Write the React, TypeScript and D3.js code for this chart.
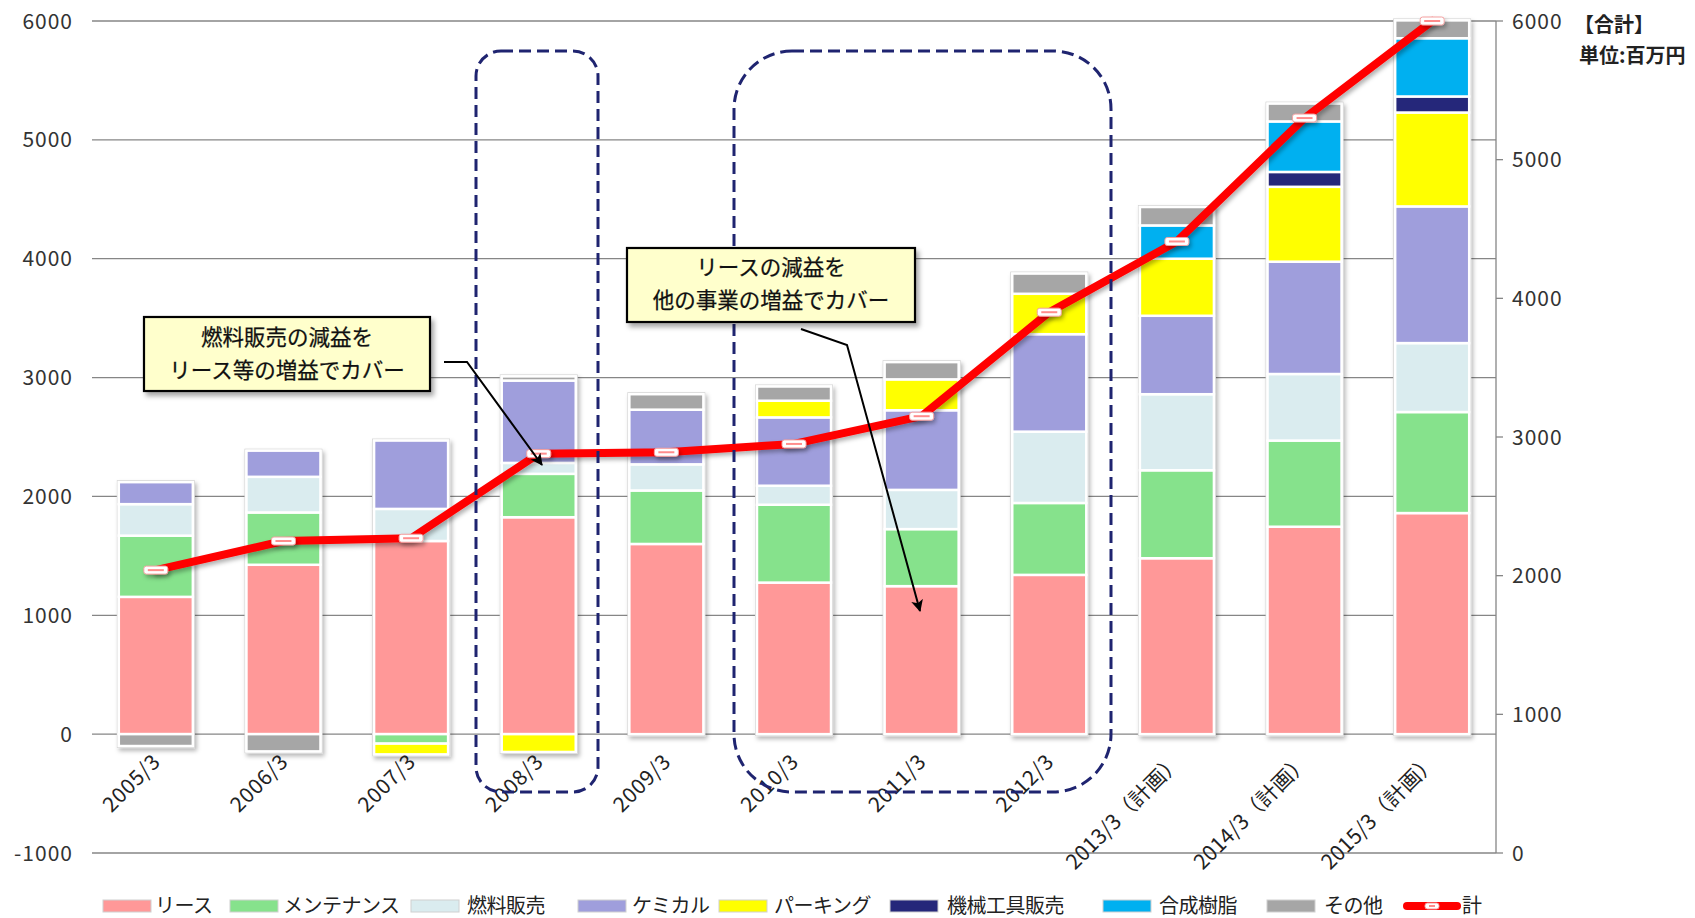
import React from 'react';
import * as d3 from 'd3';

const categories = [
  '2005/3', '2006/3', '2007/3', '2008/3', '2009/3', '2010/3', '2011/3', '2012/3',
  '2013/3（計画）', '2014/3（計画）', '2015/3（計画）',
];
const seriesNames = ['リース', 'メンテナンス', '燃料販売', 'ケミカル', 'パーキング', '機械工具販売', '合成樹脂', 'その他'];
const lease = [1155, 1425, 1625, 1825, 1600, 1275, 1245, 1340, 1480, 1745, 1860];
const maintenance = [515, 440, -80, 365, 450, 655, 480, 605, 740, 725, 850];
const fuel = [265, 300, 270, 92, 220, 160, 330, 600, 640, 560, 580];
const chemical = [185, 220, 575, 693, 460, 575, 670, 820, 660, 945, 1150];
const parking = [0, 0, -90, -150, 0, 140, 260, 340, 480, 630, 790];
const machineTools = [0, 0, 0, 0, 0, 0, 0, 0, 0, 125, 135];
const resin = [0, 0, 0, 0, 0, 0, 0, 0, 280, 425, 490];
const others = [-100, -145, 0, 35, 130, 120, 145, 170, 155, 150, 150];
const totals = [2040, 2250, 2270, 2880, 2890, 2950, 3150, 3900, 4410, 5300, 6000];
const totalName = '計';
const leftTicks = [-1000, 0, 1000, 2000, 3000, 4000, 5000, 6000];
const rightTicks = [0, 1000, 2000, 3000, 4000, 5000, 6000];
const seriesColors = ['#FF9898', '#86E28C', '#DAECEF', '#9F9EDC', '#FFFF00', '#25277A', '#00B0F0', '#A6A6A6'];
const callout1 = ['燃料販売の減益を', 'リース等の増益でカバー'];
const callout2 = ['リースの減益を', '他の事業の増益でカバー'];

const seriesValues = [lease, maintenance, fuel, chemical, parking, machineTools, resin, others];
const FONT = "'Noto Sans CJK JP', 'Noto Sans', sans-serif";

export default function App() {
  const W = 1695, H = 918;
  const left = 92, right = 1496, top = 21, bottom = 853;
  const x = d3.scaleBand<string>().domain(categories).range([left, right]).paddingInner(0.42).paddingOuter(0.21);
  const yL = d3.scaleLinear().domain([-1000, 6000]).range([bottom, top]);
  const yR = d3.scaleLinear().domain([0, 6000]).range([bottom, top]);

  const rows = categories.map((c, i) => {
    const r: any = { cat: c };
    seriesNames.forEach((k, j) => { r[k] = seriesValues[j][i]; });
    return r;
  });
  const stacked = d3.stack<any>().keys(seriesNames).offset(d3.stackOffsetDiverging)(rows);
  const bw = x.bandwidth();
  const cx = (c: string) => (x(c) as number) + bw / 2;

  const extents = categories.map((c, i) => {
    let mn = 0, mx = 0;
    stacked.forEach((s) => { mn = Math.min(mn, s[i][0], s[i][1]); mx = Math.max(mx, s[i][0], s[i][1]); });
    return [mn, mx];
  });

  const line = d3.line<number>().x((_, i) => cx(categories[i])).y((d) => yR(d));

  const legendSwatchX = [103, 230, 411, 578, 719, 890, 1103, 1267];
  const legendTextX = [155, 283, 467, 632, 774, 947, 1159, 1324];
  const legendY = 906;

  const marker = (mx: number, my: number, w: number, h: number, key: string) => (
    <g key={key}>
      <rect x={mx - w / 2} y={my - h / 2} width={w} height={h} rx={2.5} fill="#fff" stroke="#F4A0A0" strokeWidth={1} />
      <line x1={mx - w / 2 + 4} x2={mx + w / 2 - 4} y1={my} y2={my} stroke="#FF8C8C" strokeWidth={2} />
    </g>
  );

  return (
    <div>
      <style>{`body{margin:0}`}</style>
      <svg width={W} height={H} style={{ display: 'block', fontFamily: FONT }}>
        <defs>
          <filter id="barShadow" x="-20%" y="-20%" width="140%" height="140%">
            <feDropShadow dx="2" dy="3" stdDeviation="2" floodColor="#000" floodOpacity="0.28" />
          </filter>
          <filter id="lineShadow" x="-10%" y="-10%" width="120%" height="120%">
            <feDropShadow dx="2" dy="3" stdDeviation="2" floodColor="#000" floodOpacity="0.3" />
          </filter>
          <filter id="boxShadow" x="-10%" y="-10%" width="125%" height="140%">
            <feDropShadow dx="3" dy="4" stdDeviation="2.5" floodColor="#000" floodOpacity="0.35" />
          </filter>
          <marker id="arrow" viewBox="0 0 12 12" refX="11" refY="6" markerWidth="12" markerHeight="12" markerUnits="userSpaceOnUse" orient="auto">
            <path d="M0,0 L12,6 L0,12 L3,6 Z" fill="#000" />
          </marker>
        </defs>

        {/* gridlines */}
        {leftTicks.map((t) => (
          <line key={'g' + t} x1={left} x2={right} y1={yL(t)} y2={yL(t)} stroke="#868686" strokeWidth={1.3} />
        ))}
        {/* right axis */}
        <line x1={right} x2={right} y1={top} y2={bottom} stroke="#868686" strokeWidth={1.3} />
        {rightTicks.map((t) => (
          <line key={'rt' + t} x1={right} x2={right + 7} y1={yR(t)} y2={yR(t)} stroke="#868686" strokeWidth={1.3} />
        ))}
        {leftTicks.map((t) => (
          <text key={'lt' + t} x={73} y={yL(t)} dy="0.36em" textAnchor="end" fontSize={21} fill="#333" letterSpacing={1}>{t}</text>
        ))}
        {rightTicks.map((t) => (
          <text key={'rl' + t} x={1512} y={yR(t)} dy="0.36em" textAnchor="start" fontSize={21} fill="#333" letterSpacing={1}>{t}</text>
        ))}
        <text x={1574} y={32} fontSize={20} fontWeight={700} fill="#222">【合計】</text>
        <text x={1579} y={63} fontSize={20} fontWeight={700} fill="#222">単位:百万円</text>

        {/* bars */}
        {categories.map((c, i) => (
          <rect key={'bo' + c} x={x(c) as number - 1.5} width={bw + 3}
            y={yL(extents[i][1]) - 1.5} height={yL(extents[i][0]) - yL(extents[i][1]) + 3}
            fill="#fff" stroke="#D6D6D6" strokeWidth={1} filter="url(#barShadow)" />
        ))}
        {stacked.map((s, j) => (
          <g key={'s' + j}>
            {s.map((d, i) => {
              const y0 = yL(Math.max(d[0], d[1]));
              const y1 = yL(Math.min(d[0], d[1]));
              if (y1 - y0 < 0.5) return null;
              return (
                <rect key={i} x={x(categories[i]) as number} width={bw} y={y0} height={y1 - y0}
                  fill={seriesColors[j]} stroke="#fff" strokeWidth={2.5} />
              );
            })}
          </g>
        ))}

        {/* total line */}
        <path d={line(totals) as string} fill="none" stroke="#FF0000" strokeWidth={8} strokeLinejoin="round" strokeLinecap="round" filter="url(#lineShadow)" />
        <g filter="url(#lineShadow)">
          {totals.map((t, i) => marker(cx(categories[i]), yR(t), 24, 8, 'm' + i))}
        </g>

        {/* x labels */}
        {categories.map((c) => (
          <text key={'xl' + c} transform={`translate(${cx(c) + 6},${763}) rotate(-45)`} textAnchor="end" fontSize={21} fill="#222" letterSpacing={c.length > 7 ? 0.2 : 0.8}>{c}</text>
        ))}

        {/* dashed highlight boxes */}
        <rect x={476} y={51} width={122} height={741} rx={25} fill="none" stroke="#1F2470" strokeWidth={3} strokeDasharray="12 6" />
        <rect x={734} y={51} width={377} height={741} rx={58} fill="none" stroke="#1F2470" strokeWidth={3} strokeDasharray="12 6" />

        {/* arrows */}
        <polyline points="444,362 467,362 542,465" fill="none" stroke="#000" strokeWidth={2} markerEnd="url(#arrow)" />
        <polyline points="801,329 847,345 920,611" fill="none" stroke="#000" strokeWidth={2} markerEnd="url(#arrow)" />

        {/* callouts */}
        <rect x={144} y={317} width={286} height={74} fill="#FFFFCC" stroke="#000" strokeWidth={2.2} filter="url(#boxShadow)" />
        {callout1.map((t, i) => (
          <text key={'c1' + i} x={287} y={337 + i * 33} dy="0.36em" textAnchor="middle" fontSize={21.5} fill="#111" stroke="#111" strokeWidth={0.25}>{t}</text>
        ))}
        <rect x={627} y={248} width={288} height={74} fill="#FFFFCC" stroke="#000" strokeWidth={2.2} filter="url(#boxShadow)" />
        {callout2.map((t, i) => (
          <text key={'c2' + i} x={771} y={267 + i * 33} dy="0.36em" textAnchor="middle" fontSize={21.5} fill="#111" stroke="#111" strokeWidth={0.25}>{t}</text>
        ))}

        {/* legend */}
        {seriesNames.map((n, j) => (
          <g key={'lg' + n}>
            <rect x={legendSwatchX[j]} y={legendY - 6} width={48} height={12} fill={seriesColors[j]} stroke="#D0D0D0" strokeWidth={1} />
            <text x={legendTextX[j]} y={legendY} dy="0.36em" fontSize={20} fill="#222" letterSpacing={-0.5}>{n}</text>
          </g>
        ))}
        <line x1={1407} x2={1457} y1={legendY} y2={legendY} stroke="#FF0000" strokeWidth={8} strokeLinecap="round" />
        {marker(1432, legendY, 14, 6, 'lgm')}
        <text x={1462} y={legendY} dy="0.36em" fontSize={20} fill="#222">{totalName}</text>
      </svg>
    </div>
  );
}
